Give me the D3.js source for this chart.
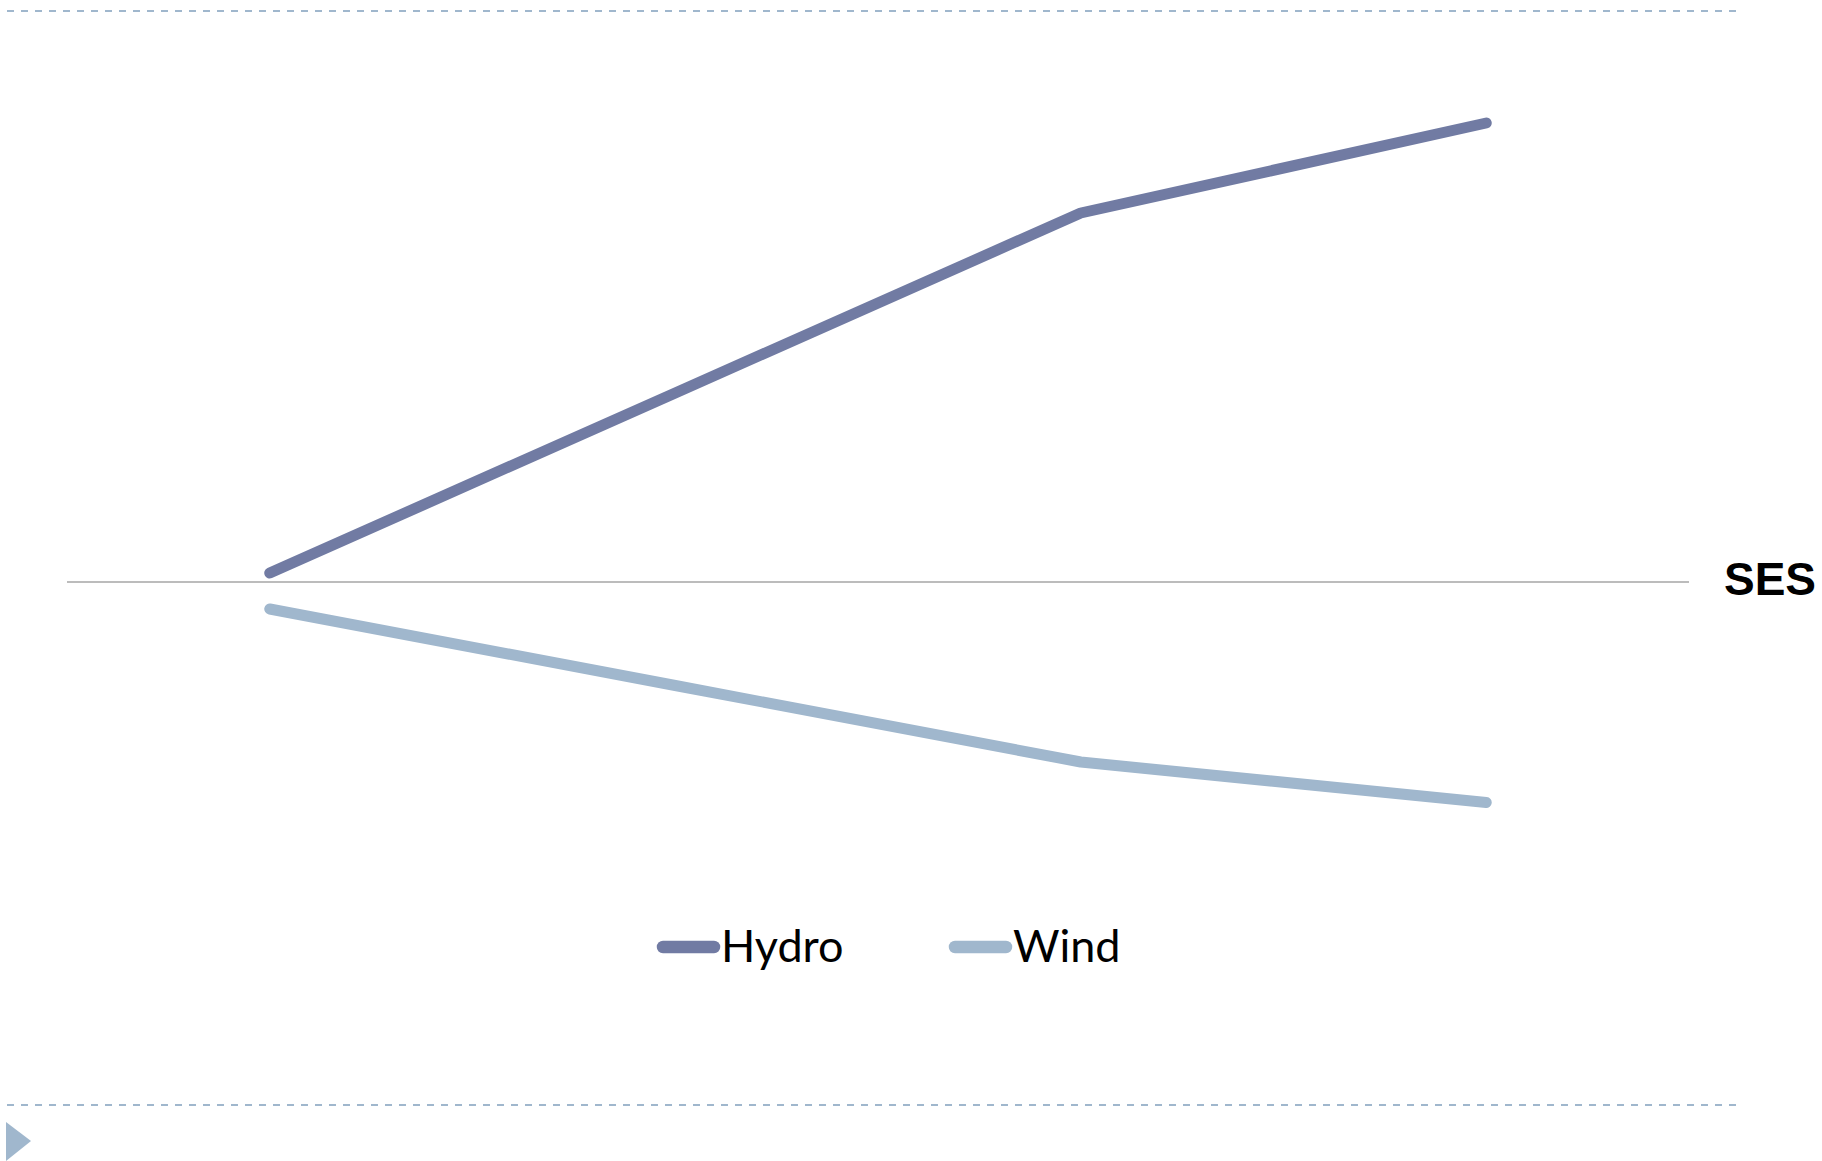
<!DOCTYPE html>
<html><head><meta charset="utf-8">
<script src="https://cdn.jsdelivr.net/npm/d3@7"></script>
<style>html,body{margin:0;padding:0;background:#fff;overflow:hidden}</style>
</head><body>
<svg id="c" width="1822" height="1161"></svg>
<script>
const categories = ["P1", "P2", "P3", "P4"];
const hydro = [0.2, 4.2, 8.2, 10.2];
const wind = [-0.6, -2.3, -4.0, -4.9];
const seriesNames = ["Hydro", "Wind"];
const axisLabel = "SES";

const colors = {Hydro: "#717ba3", Wind: "#a0b7cd"};
const svg = d3.select("#c");

// decorative dashed rules
[11, 1105].forEach(y => svg.append("line")
  .attr("x1", 7).attr("x2", 1736).attr("y1", y).attr("y2", y)
  .attr("stroke", "#a0b7cd").attr("stroke-width", 2).attr("stroke-dasharray", "7,7"));
svg.append("path").attr("d", "M6,1122 L31,1141 L6,1161 Z").attr("fill", "#a0b7cd");

const x = d3.scaleBand().domain(categories).range([67, 1689]);
const y = d3.scaleLinear().domain([0, 10]).range([582, 132]);

svg.append("line").attr("x1", 67).attr("x2", 1689)
  .attr("y1", y(0)).attr("y2", y(0)).attr("stroke", "#a6a6a6").attr("stroke-width", 1.5);

svg.append("text").attr("x", 1724).attr("y", y(0) + 13)
  .attr("font-family", "Liberation Sans, Arial, sans-serif").attr("font-weight", "bold")
  .attr("font-size", 46).attr("fill", "#000").text(axisLabel);

const line = d3.line().x((d, i) => x(categories[i]) + x.bandwidth() / 2).y(d => y(d));
[[seriesNames[0], hydro], [seriesNames[1], wind]].forEach(([n, v]) => {
  svg.append("path").datum(v).attr("d", line).attr("fill", "none")
    .attr("stroke", colors[n]).attr("stroke-width", 11)
    .attr("stroke-linecap", "round").attr("stroke-linejoin", "round");
});

const legX = [663, 955];
seriesNames.forEach((n, i) => {
  svg.append("line").attr("x1", legX[i]).attr("x2", legX[i] + 51)
    .attr("y1", 947).attr("y2", 947).attr("stroke", colors[n])
    .attr("stroke-width", 12.5).attr("stroke-linecap", "round");
  svg.append("text").attr("x", legX[i] + 58).attr("y", 962)
    .attr("font-family", "Lato, sans-serif").attr("font-size", 45)
    .attr("fill", "#000").text(n);
});
</script>
</body></html>
